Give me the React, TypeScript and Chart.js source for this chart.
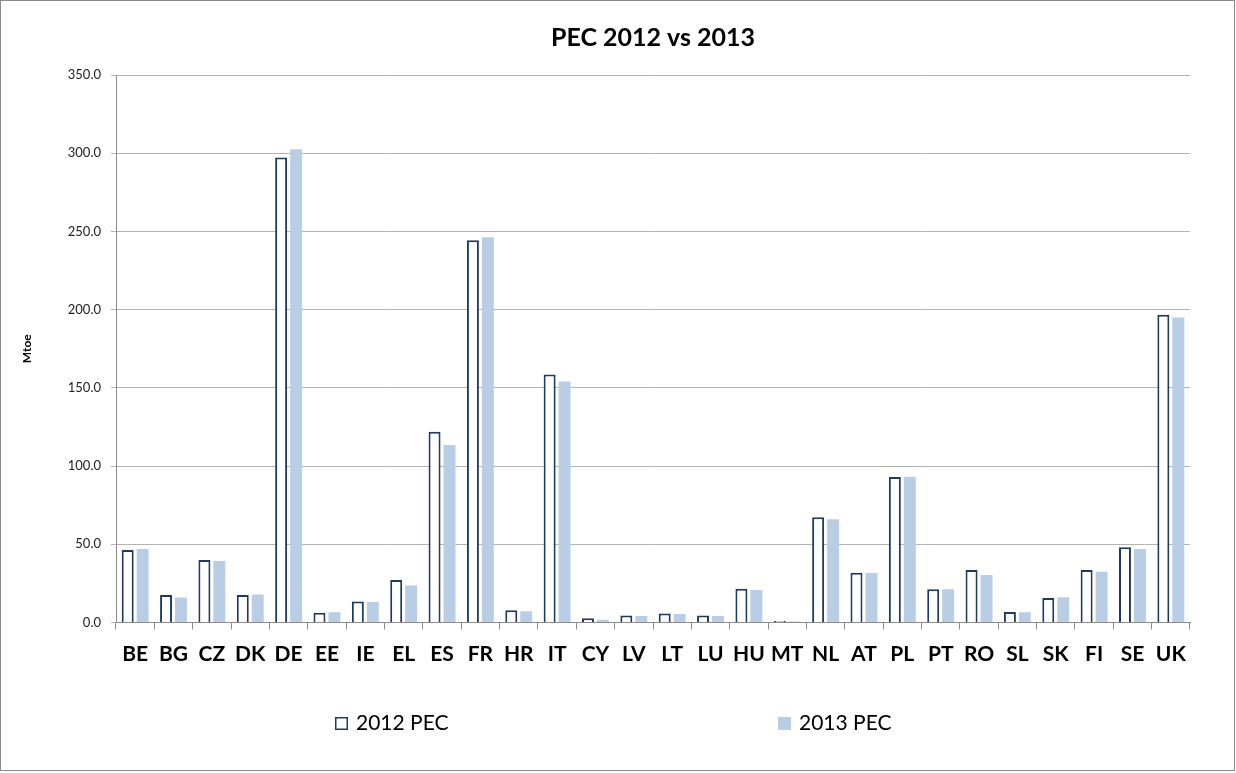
import React, { useEffect, useRef } from "react";
import { Chart, registerables } from "chart.js";

Chart.register(...registerables);

const categories = ["BE", "BG", "CZ", "DK", "DE", "EE", "IE", "EL", "ES", "FR", "HR", "IT", "CY", "LV", "LT", "LU", "HU", "MT", "NL", "AT", "PL", "PT", "RO", "SL", "SK", "FI", "SE", "UK"];
const pec2012 = [46.4, 17.6, 40.0, 17.6, 297.2, 6.3, 13.5, 27.2, 122.0, 244.3, 7.8, 158.5, 2.7, 4.4, 5.7, 4.4, 21.6, 0.9, 67.3, 31.8, 93.0, 21.2, 33.6, 6.7, 15.7, 33.6, 48.1, 196.8];
const pec2013 = [47.0, 16.0, 39.3, 17.9, 302.5, 6.5, 13.1, 23.7, 113.5, 246.3, 7.2, 154.0, 1.8, 4.2, 5.5, 4.2, 20.8, 0.6, 66.0, 31.6, 93.2, 21.2, 30.4, 6.5, 16.1, 32.5, 47.0, 195.0];
const seriesLabels = ["2012 PEC", "2013 PEC"];
const yTicksMax = 350;
const yTickStep = 50;

const FONT = "Lato, 'Open Sans', sans-serif";

const legendPlugin = {
  id: "customLegend",
  afterDraw(chart: any) {
    const ctx = chart.ctx;
    const ds = chart.data.datasets;
    const xs = [334, 777];
    ctx.save();
    ds.forEach((d: any, i: number) => {
      const bx = xs[i];
      const by = 716;
      if (i === 0) {
        ctx.fillStyle = "#ffffff";
        ctx.fillRect(bx, by, 13, 13);
        ctx.strokeStyle = d.borderColor;
        ctx.lineWidth = 1.5;
        ctx.strokeRect(bx + 0.75, by + 0.75, 11.5, 11.5);
      } else {
        ctx.fillStyle = d.backgroundColor;
        ctx.fillRect(bx, by, 13, 13);
      }
      ctx.fillStyle = "#000000";
      ctx.font = `21px ${FONT}`;
      ctx.textBaseline = "alphabetic";
      ctx.textAlign = "left";
      ctx.fillText(d.label, bx + 21, 728.5);
    });
    ctx.restore();
  },
};

export default function App() {
  const canvasRef = useRef<HTMLCanvasElement | null>(null);

  useEffect(() => {
    document.body.style.margin = "0";
    const canvas = canvasRef.current;
    if (!canvas) return;
    const chart = new Chart(canvas, {
      type: "bar",
      data: {
        labels: categories,
        datasets: [
          {
            label: seriesLabels[0],
            data: pec2012,
            backgroundColor: "#ffffff",
            borderColor: "#1f3a60",
            borderWidth: 2,
            categoryPercentage: 0.78,
            barPercentage: 0.8,
          },
          {
            label: seriesLabels[1],
            data: pec2013,
            backgroundColor: "#b9cde5",
            borderColor: "#b9cde5",
            borderWidth: 0,
            categoryPercentage: 0.78,
            barPercentage: 0.8,
          },
        ],
      },
      options: {
        responsive: false,
        animation: false,
        devicePixelRatio: 1,
        layout: { padding: { left: 0, right: 44, top: 0, bottom: 100 } },
        plugins: {
          legend: { display: false },
          tooltip: { enabled: false },
          title: {
            display: true,
            fullSize: false,
            text: "PEC 2012 vs 2013",
            color: "#000000",
            font: { family: FONT, size: 25, weight: "bold" },
            padding: { top: 22, bottom: 22 },
          },
        },
        scales: {
          x: {
            grid: {
              offset: true,
              drawOnChartArea: false,
              drawTicks: true,
              tickLength: 7,
              color: "#8c8c8c",
            },
            border: { color: "#8c8c8c" },
            ticks: {
              color: "#000000",
              font: { family: FONT, size: 21, weight: "bold" },
              padding: 12,
              autoSkip: false,
              maxRotation: 0,
            },
            afterFit(scale: any) {
              scale.height = 47.5;
            },
          },
          y: {
            min: 0,
            max: yTicksMax,
            ticks: {
              stepSize: yTickStep,
              color: "#222222",
              font: { family: FONT, size: 13 },
              padding: 10,
              callback: (v: any) => Number(v).toFixed(1),
            },
            grid: { color: "#b3b3b3", tickLength: 5, lineWidth: 1 },
            border: { color: "#8c8c8c" },
            title: {
              display: true,
              text: "Mtoe",
              color: "#000000",
              font: { family: FONT, size: 12, weight: "bold" },
              padding: { top: 18.5, bottom: 0 },
            },
            afterFit(scale: any) {
              scale.width = 115;
            },
          },
        },
      },
      plugins: [legendPlugin],
    });
    return () => chart.destroy();
  }, []);

  return (
    <div
      style={{
        position: "absolute",
        left: 0,
        top: 0,
        width: 1235,
        height: 771,
        border: "1px solid #8a8a8a",
        boxSizing: "border-box",
        background: "#ffffff",
      }}
    >
      <canvas ref={canvasRef} width={1233} height={769} style={{ display: "block" }} />
    </div>
  );
}
